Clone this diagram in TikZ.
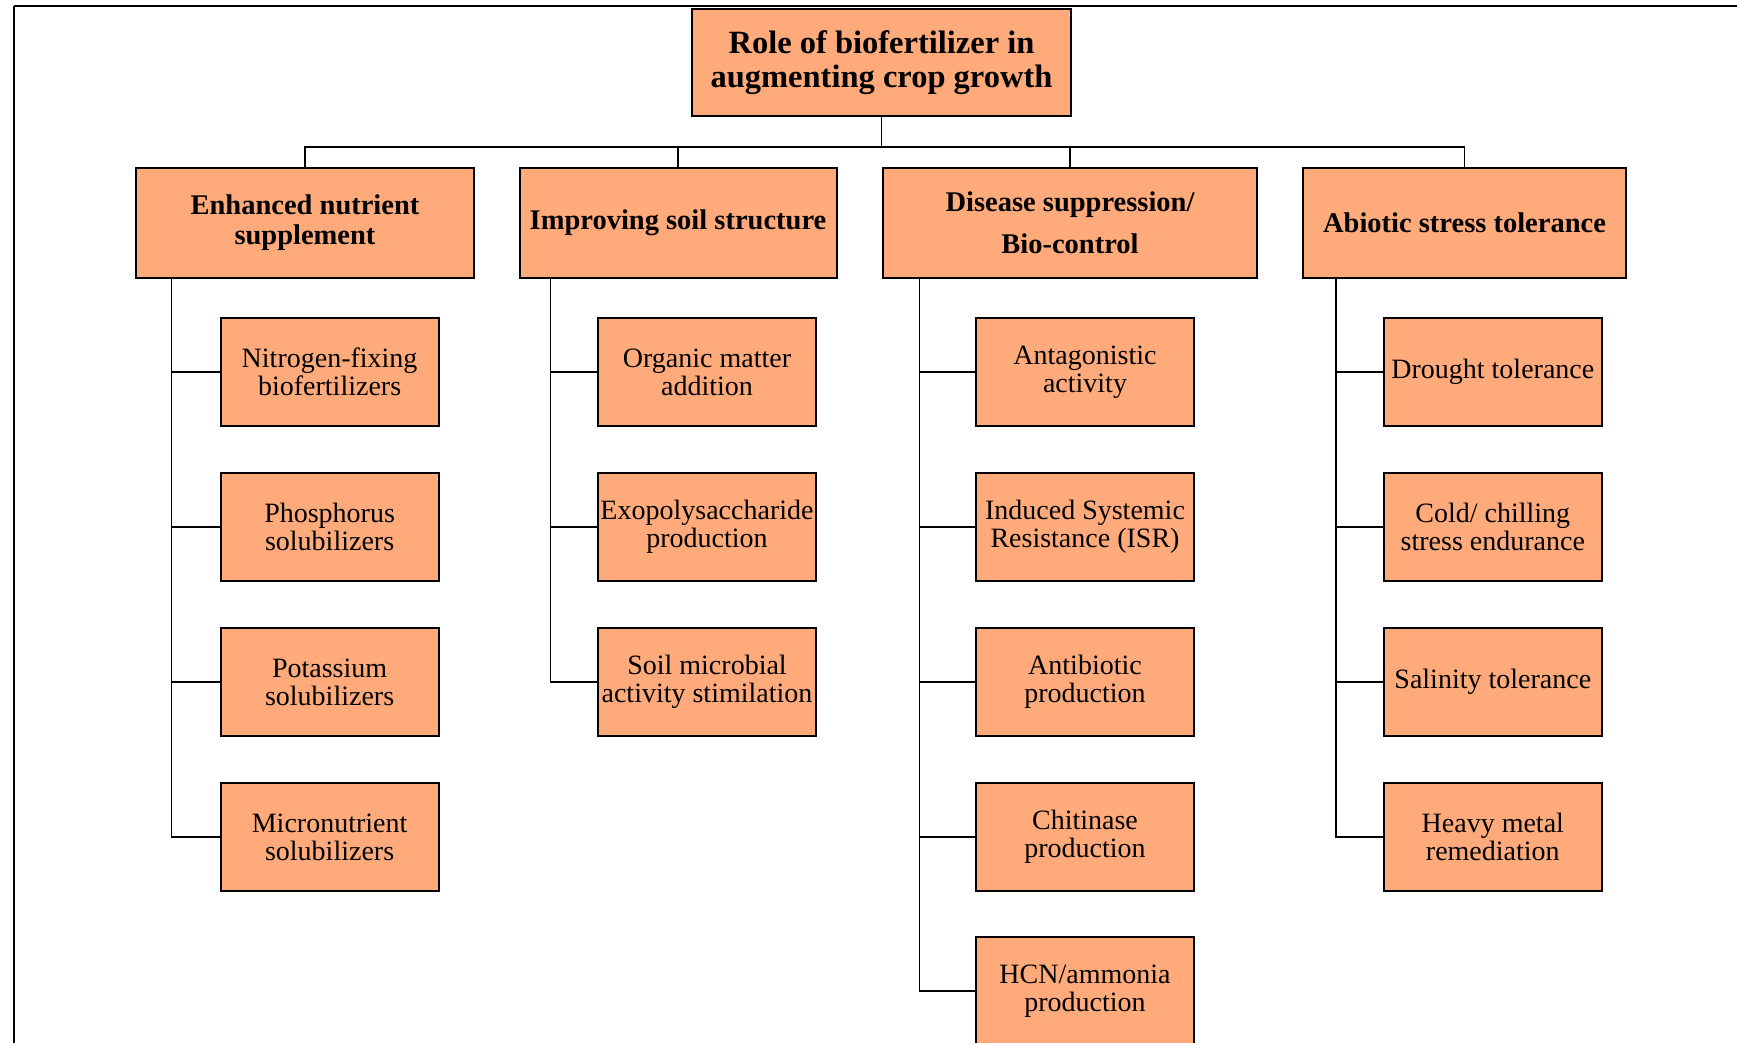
\documentclass[tikz,border=0pt]{standalone}
\usepackage{fontspec}
\setmainfont{Liberation Serif}
\usetikzlibrary{calc}

\definecolor{boxfill}{RGB}{255,170,122}

\begin{document}
\begin{tikzpicture}[
  x=1pt, y=-1pt,
  title/.style={rectangle, draw, line width=2pt, fill=boxfill, align=center, inner sep=0pt,
    minimum width=379pt, minimum height=107pt, font=\fontsize{32.5}{34}\selectfont\bfseries},
  branch/.style={rectangle, draw, line width=2pt, fill=boxfill, align=center, inner sep=0pt,
    minimum height=109pt, font=\fontsize{28.5}{30}\selectfont\bfseries},
  leaf/.style={rectangle, draw, line width=2pt, fill=boxfill, align=center, inner sep=0pt,
    minimum width=218pt, minimum height=108.5pt, font=\fontsize{28}{28}\selectfont},
  link/.style={line width=1.8pt}
]
\useasboundingbox (0,0) rectangle (1737,1043);

% Page frame (cut at the right and bottom)
\draw[line width=2.5pt] (14,6) -- (1760,6);
\draw[line width=1.5pt] (14,6) -- (14,1060);

% ============================================
% ROOT
% ============================================
\node[title] (root) at (881.5,62.7) {Role of biofertilizer in\\augmenting crop growth};

% ============================================
% MAIN BRANCHES
% ============================================
\node[branch, minimum width=338pt] (nutrient) at (305,223) {Enhanced nutrient\\supplement};
\node[branch, minimum width=317pt] (soil) at (678,223) {Improving soil structure};
\node[branch, minimum width=374pt, font=\fontsize{28.5}{42}\selectfont\bfseries] (disease) at (1070,223) {Disease suppression/\\Bio-control};
\node[branch, minimum width=323.5pt] (abiotic) at (1464.5,223) {Abiotic stress tolerance};

\coordinate (bus) at (0,147);
\draw[link] (root.south) -- (root.south |- bus);
\draw[link] (nutrient.north) -- (nutrient.north |- bus) -- (abiotic.north |- bus) -- (abiotic.north);
\draw[link] (soil.north) -- (soil.north |- bus);
\draw[link] (disease.north) -- (disease.north |- bus);

% ============================================
% ENHANCED NUTRIENT SUPPLEMENT
% ============================================
\node[leaf] (nitro) at (329.6,372) {Nitrogen-fixing\\biofertilizers};
\node[leaf] (phos) at (329.6,527) {Phosphorus\\solubilizers};
\node[leaf] (pota) at (329.6,682) {Potassium\\solubilizers};
\node[leaf] (micro) at (329.6,837) {Micronutrient\\solubilizers};

% ============================================
% IMPROVING SOIL STRUCTURE
% ============================================
\node[leaf] (organic) at (707,372) {Organic matter\\addition};
\node[leaf] (exopoly) at (707,527) {Exopolysaccharide\\production};
\node[leaf] (microbial) at (707,682) {Soil microbial\\activity stimilation};

% ============================================
% DISEASE SUPPRESSION / BIO-CONTROL
% ============================================
\node[leaf] (antag) at (1085,372) {Antagonistic\\activity};
\node[leaf] (isr) at (1085,527) {Induced Systemic\\Resistance (ISR)};
\node[leaf] (antibio) at (1085,682) {Antibiotic\\production};
\node[leaf] (chitin) at (1085,837) {Chitinase\\production};
\node[leaf] (hcn) at (1085,991) {HCN/ammonia\\production};

% ============================================
% ABIOTIC STRESS TOLERANCE
% ============================================
\node[leaf] (drought) at (1492.8,372) {Drought tolerance};
\node[leaf] (cold) at (1492.8,527) {Cold/ chilling\\stress endurance};
\node[leaf] (salinity) at (1492.8,682) {Salinity tolerance};
\node[leaf] (metal) at (1492.8,837) {Heavy metal\\remediation};

% Side trunks and elbows
\coordinate (trunkA) at (171.5,0);
\coordinate (trunkB) at (550.5,0);
\coordinate (trunkC) at (919.5,0);
\coordinate (trunkD) at (1336,0);

\draw[link] (nutrient.south -| trunkA) |- (micro.west);
\foreach \n in {nitro, phos, pota}
  \draw[link] (trunkA |- \n.west) -- (\n.west);

\draw[link] (soil.south -| trunkB) |- (microbial.west);
\foreach \n in {organic, exopoly}
  \draw[link] (trunkB |- \n.west) -- (\n.west);

\draw[link] (disease.south -| trunkC) |- (hcn.west);
\foreach \n in {antag, isr, antibio, chitin}
  \draw[link] (trunkC |- \n.west) -- (\n.west);

\draw[link] (abiotic.south -| trunkD) |- (metal.west);
\foreach \n in {drought, cold, salinity}
  \draw[link] (trunkD |- \n.west) -- (\n.west);

\end{tikzpicture}
\end{document}
